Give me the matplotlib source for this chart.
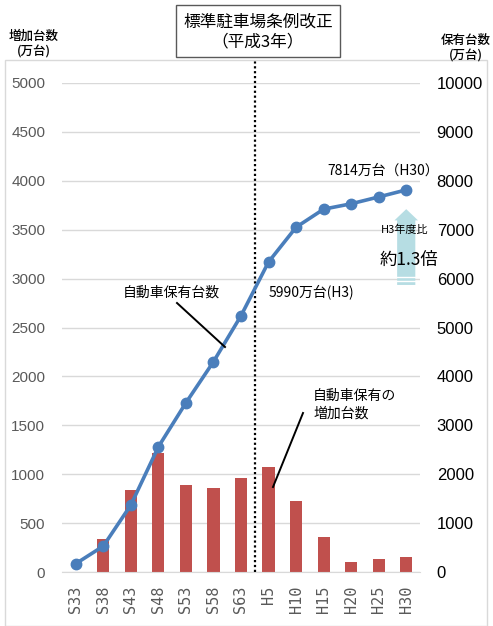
import matplotlib
matplotlib.use("Agg")
import matplotlib.pyplot as plt
from matplotlib.patches import Rectangle, FancyArrow
from matplotlib.lines import Line2D

# Survey years (Showa / Heisei)
years = ["S33", "S38", "S43", "S48", "S53", "S58", "S63",
         "H5", "H10", "H15", "H20", "H25", "H30"]
# Increase in registered vehicles per period (10k units), left axis
increase = [0, 335, 840, 1215, 885, 855, 965, 1075, 730, 355, 105, 135, 150]
# Total registered vehicles (10k units), right axis
owned = [170, 530, 1370, 2560, 3460, 4300, 5240, 6340, 7050, 7420, 7530, 7670, 7814]

left_ticks = list(range(0, 5001, 500))
right_ticks = list(range(0, 10001, 1000))

W, H = 493, 626
CJK = ["Noto Sans CJK JP", "DejaVu Sans"]
BLUE = "#4a7ebb"
RED = "#c0504d"
GRID = "#d9d9d9"
GRAY = "#595959"

fig = plt.figure(figsize=(W / 100, H / 100), dpi=100)


def px(x, y):
    """Pixel position (from top-left) to figure fraction."""
    return x / W, 1 - y / H


# outer chart frame
fig.patches.append(Rectangle(px(5, 626), 482 / W, 566 / H, transform=fig.transFigure,
                             fill=False, edgecolor=GRID, lw=1.0, zorder=0))

ax = fig.add_axes([62 / W, 1 - 572 / H, 358 / W, 489 / H])
x = list(range(len(years)))
ax.bar(x, increase, width=0.44, color=RED, zorder=2)
ax.set_xlim(-0.5, len(years) - 0.5)
ax.set_ylim(0, 5000)
ax.set_yticks(left_ticks)
ax.grid(axis="y", color=GRID, lw=1.0, zorder=0)
ax.set_axisbelow(True)
for s in ["top", "right", "left"]:
    ax.spines[s].set_visible(False)
ax.spines["bottom"].set_color(GRID)
ax.tick_params(axis="y", length=0, pad=12, labelsize=11, labelcolor=GRAY)
ax.set_yticklabels([str(v) for v in left_ticks], family="Liberation Sans")
ax.set_xticks(x)
ax.set_xticklabels(years, rotation=90, family="DejaVu Sans Mono", fontsize=11,
                   color=GRAY, va="top")
ax.tick_params(axis="x", length=0, pad=10)

ax2 = ax.twinx()
ax2.plot(x, owned, color=BLUE, lw=2.6, marker="o", markersize=7.5, zorder=3)
ax2.set_ylim(0, 10000)
ax2.set_yticks(right_ticks)
ax2.set_yticklabels([str(v) for v in right_ticks], family="Liberation Sans")
ax2.tick_params(axis="y", length=0, pad=12, labelsize=12, labelcolor="black")
for s in ["top", "right", "left", "bottom"]:
    ax2.spines[s].set_visible(False)

# ordinance revision marker between S63 and H5
ax.plot([6.5, 6.5], [0, 1.047], transform=ax.get_xaxis_transform(),
        color="black", ls=(0, (1, 1.2)), lw=1.6, clip_on=False, zorder=4)

# increase ratio arrow from H3 level up to the H30 level
arr = FancyArrow(12, 5870, 0, 1550, width=0.66, head_width=0.86, head_length=230,
                 length_includes_head=True, color="#b6dde3", lw=0, zorder=2)
ax2.add_patch(arr)
for yv in (5950, 6035):
    ax2.plot([11.67, 12.33], [yv, yv], color="white", lw=1.0, zorder=2.5)

# title box
fig.patches.append(Rectangle(px(176, 57), 164 / W, 52 / H, transform=fig.transFigure,
                             fill=True, facecolor="white", edgecolor=GRAY, lw=1.0, zorder=5))
fig.text(*px(258, 22), "標準駐車場条例改正", family=CJK, fontsize=12,
         ha="center", va="center", zorder=6)
fig.text(*px(258, 42), "（平成3年）", family=CJK, fontsize=12,
         ha="center", va="center", zorder=6)

# axis titles
fig.text(*px(34, 44), "増加台数\n(万台)", family=CJK, fontsize=9, ha="center",
         va="center", linespacing=1.3, fontweight="medium")
fig.text(*px(466, 48), "保有台数\n(万台)", family=CJK, fontsize=9, ha="center",
         va="center", linespacing=1.3, fontweight="medium")

# annotations
fig.text(*px(383, 171), "7814万台（H30）", family=CJK, fontsize=10, ha="center", va="center")
fig.text(*px(405, 230), "H3年度比", family=CJK, fontsize=8, ha="center", va="center")
fig.text(*px(409, 260), "約1.3倍", family=CJK, fontsize=12.5, ha="center", va="center")
fig.text(*px(311, 292), "5990万台(H3)", family=CJK, fontsize=10, ha="center", va="center")
fig.text(*px(171, 293), "自動車保有台数", family=CJK, fontsize=10, ha="center", va="center")
fig.text(*px(313, 405), "自動車保有の\n増加台数", family=CJK, fontsize=10, ha="left",
         va="center", linespacing=1.35)

# leader lines
for (x0, y0), (x1, y1) in [((177, 303), (225, 347)), ((303, 413), (273, 487))]:
    a, b = px(x0, y0)
    c, d = px(x1, y1)
    fig.lines.append(Line2D([a, c], [b, d], transform=fig.transFigure,
                            color="black", lw=1.4, zorder=6))

fig.savefig("out.png", dpi=100)
